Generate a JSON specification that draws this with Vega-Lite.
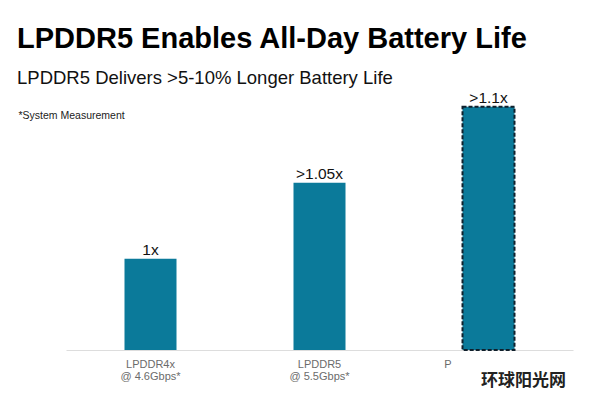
{
  "$schema": "https://vega.github.io/schema/vega-lite/v6.json",
  "width": 507,
  "height": 266,
  "autosize": {"type": "none"},
  "padding": {"left": 66, "top": 84, "right": 27, "bottom": 46},
  "background": "white",
  "title": {
    "text": "LPDDR5 Enables All-Day Battery Life",
    "subtitle": "LPDDR5 Delivers >5-10% Longer Battery Life",
    "anchor": "start",
    "frame": "group",
    "dx": -49,
    "offset": -3,
    "font": "Liberation Sans",
    "fontSize": 29,
    "fontWeight": "bold",
    "color": "#000000",
    "subtitleFont": "Liberation Sans",
    "subtitleFontSize": 18.5,
    "subtitleColor": "#111111",
    "subtitlePadding": 15
  },
  "data": {
    "values": [
      {"mem": "LPDDR4x|@ 4.6Gbps*", "value": 1.0, "label": "1x"},
      {"mem": "LPDDR5|@ 5.5Gbps*", "value": 1.05, "label": ">1.05x"},
      {"mem": "P", "value": 1.1, "label": ">1.1x"}
    ]
  },
  "encoding": {
    "x": {
      "field": "mem",
      "type": "nominal",
      "sort": null,
      "scale": {"paddingInner": 0, "paddingOuter": 0},
      "axis": {
        "title": null,
        "labelAngle": 0,
        "labelExpr": "split(datum.value, '|')",
        "labelFont": "Liberation Sans",
        "labelFontSize": 11,
        "labelColor": "#6b6b6b",
        "labelLineHeight": 12,
        "labelPadding": 8,
        "labelAlign": {"condition": {"test": "datum.value == 'P'", "value": "right"}, "value": "center"},
        "labelOffset": {"condition": {"test": "datum.value == 'P'", "value": -37}, "value": 0},
        "ticks": false,
        "domainColor": "#dddddd",
        "domainWidth": 1
      }
    }
  },
  "layer": [
    {
      "mark": {"type": "bar", "size": 52, "color": "#0b7a9a"},
      "encoding": {
        "y": {
          "field": "value",
          "type": "quantitative",
          "scale": {"domain": [0.94, 1.115], "nice": false, "zero": false},
          "axis": {
            "title": "*System Measurement",
            "titleAngle": 0,
            "titleAlign": "left",
            "titleBaseline": "alphabetic",
            "titleX": -48,
            "titleY": 34,
            "titleFont": "Liberation Sans",
            "titleFontSize": 10.5,
            "titleFontWeight": "normal",
            "titleColor": "#222222",
            "domain": false,
            "ticks": false,
            "labels": false,
            "grid": false
          }
        },
        "y2": {"datum": 0.94},
        "stroke": {"condition": {"test": "datum.mem == 'P'", "value": "#10202c"}, "value": null},
        "strokeWidth": {"condition": {"test": "datum.mem == 'P'", "value": 2}, "value": 0},
        "strokeDash": {"condition": {"test": "datum.mem == 'P'", "value": [4, 2]}, "value": [1, 0]}
      }
    },
    {
      "mark": {"type": "text", "baseline": "alphabetic", "dy": -4, "font": "Liberation Sans", "fontSize": 15.5, "color": "#111111"},
      "encoding": {
        "y": {"field": "value", "type": "quantitative"},
        "text": {"field": "label"}
      }
    },
    {
      "data": {"values": [{"mem": "P", "wm": "环球阳光网"}]},
      "mark": {"type": "text", "baseline": "alphabetic", "dx": 35, "dy": 36, "font": "Noto Sans CJK SC", "fontWeight": "bold", "fontSize": 17, "color": "#222222"},
      "encoding": {
        "y": {"datum": 0.94},
        "text": {"field": "wm"}
      }
    }
  ],
  "config": {"view": {"stroke": null}}
}
